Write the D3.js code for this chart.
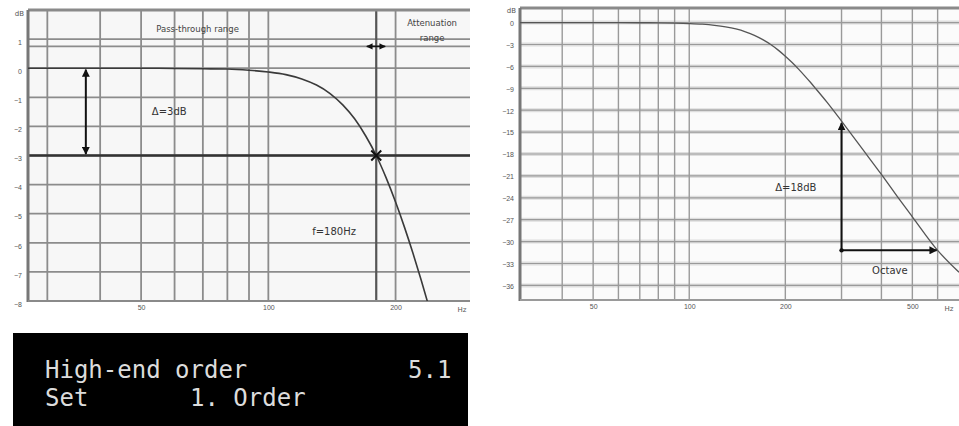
<!DOCTYPE html>
<html lang="en">
<head>
<meta charset="UTF-8">
<title>Low-pass filter order</title>
<script src="https://d3js.org/d3.v7.min.js"></script>
<style>
    body { margin: 0; background: #ffffff; }
    svg { display: block; font-family: "DejaVu Sans", sans-serif; }
    .tick-label { font-size: 7px; fill: #555; }
    .note { font-size: 10px; fill: #333; }
    .small-note { font-size: 8.5px; fill: #444; }
    .lcd { font-family: "DejaVu Sans Mono", monospace; font-size: 24px; fill: #dcdcdc; }
</style>
</head>
<body>
<svg id="chart" width="959" height="426"></svg>
<script>
    // response of the filter (Hz / dB)
    const freqs  = [27, 40, 50, 60, 70, 80, 90, 100, 110, 120, 130, 140, 150, 160, 170, 180,
                    190, 200, 210, 220, 230, 240, 250, 270, 300, 350, 400, 450, 500, 600, 700];
    const gainDb = [0, 0, 0, -0.01, -0.02, -0.03, -0.07, -0.13, -0.22, -0.37, -0.58, -0.87, -1.26, -1.74, -2.33, -3.0,
                    -3.77, -4.6, -5.47, -6.37, -7.29, -8.21, -9.13, -10.9, -13.5, -17.4, -20.8, -23.9, -26.6, -31.2, -34.2];

    const leftYTicks  = [1, 0, -1, -2, -3, -4, -5, -6, -7, -8];
    const leftXGrid   = [30, 40, 50, 60, 70, 80, 90, 100, 200];
    const leftXLabels = [50, 100, 200];
    const cutoffHz = 180;

    const rightYTicks  = [0, -3, -6, -9, -12, -15, -18, -21, -24, -27, -30, -33, -36];
    const rightXGrid   = [40, 50, 60, 70, 80, 90, 100, 200, 300, 400, 500, 600];
    const rightXLabels = [50, 100, 200, 500];
    const octave = [300, 600];

    const data = freqs.map((f, i) => ({f: f, db: gainDb[i]}));
    const svg = d3.select("#chart");

    // ---------- left panel: -3 dB point ----------
    const L = {x0: 28, x1: 470, y0: 10, y1: 301};
    const xL = d3.scaleLog().domain([27, 300]).range([L.x0, L.x1]);
    const yL = d3.scaleLinear().domain([2, -8]).range([L.y0, L.y1]);

    const left = svg.append("g");
    left.append("rect").attr("x", L.x0).attr("y", L.y0)
        .attr("width", L.x1 - L.x0).attr("height", L.y1 - L.y0).attr("fill", "#f7f7f7");

    left.selectAll(".hgrid").data(leftYTicks).enter().append("line")
        .attr("x1", L.x0).attr("x2", L.x1)
        .attr("y1", d => yL(d)).attr("y2", d => yL(d))
        .attr("stroke", "#8c8c8c").attr("stroke-width", 1.8);
    left.selectAll(".vgrid").data(leftXGrid).enter().append("line")
        .attr("x1", d => xL(d)).attr("x2", d => xL(d))
        .attr("y1", L.y0).attr("y2", L.y1)
        .attr("stroke", "#8c8c8c").attr("stroke-width", 1.8);

    // range separator line under the headings
    left.append("line").attr("x1", L.x0).attr("x2", L.x1)
        .attr("y1", yL(0.75)).attr("y2", yL(0.75))
        .attr("stroke", "#8c8c8c").attr("stroke-width", 1.8);

    // -3 dB line and cutoff line
    left.append("line").attr("x1", L.x0).attr("x2", L.x1)
        .attr("y1", yL(-3)).attr("y2", yL(-3))
        .attr("stroke", "#333").attr("stroke-width", 2.6);
    left.append("line").attr("x1", xL(cutoffHz)).attr("x2", xL(cutoffHz))
        .attr("y1", L.y0).attr("y2", L.y1)
        .attr("stroke", "#555").attr("stroke-width", 2.2);

    // frame
    left.append("line").attr("x1", L.x0).attr("x2", L.x1).attr("y1", L.y0).attr("y2", L.y0)
        .attr("stroke", "#8a8a8a").attr("stroke-width", 3);
    left.append("line").attr("x1", L.x0).attr("x2", L.x0).attr("y1", L.y0).attr("y2", L.y1 + 1)
        .attr("stroke", "#777").attr("stroke-width", 3);
    left.append("line").attr("x1", L.x0).attr("x2", L.x1).attr("y1", L.y1).attr("y2", L.y1)
        .attr("stroke", "#8a8a8a").attr("stroke-width", 2);

    svg.append("clipPath").attr("id", "clipL").append("rect")
        .attr("x", L.x0).attr("y", L.y0).attr("width", L.x1 - L.x0).attr("height", L.y1 - L.y0);
    left.append("path").datum(data)
        .attr("clip-path", "url(#clipL)")
        .attr("fill", "none").attr("stroke", "#3a3a3a").attr("stroke-width", 1.6)
        .attr("d", d3.line().x(d => xL(d.f)).y(d => yL(d.db)).curve(d3.curveMonotoneX));

    // axes labels
    left.append("g").attr("transform", `translate(${L.x0 - 4},0)`)
        .call(d3.axisLeft(yL).tickValues(leftYTicks).tickSize(0).tickPadding(2).tickFormat(d3.format("d")))
        .call(g => g.select(".domain").remove())
        .selectAll("text").attr("class", "tick-label").attr("dy", "0.75em");
    left.append("text").attr("class", "tick-label").attr("x", L.x0 - 4).attr("y", L.y0 + 6)
        .attr("text-anchor", "end").text("dB");
    left.append("g").attr("transform", `translate(0,${L.y1 + 2})`)
        .call(d3.axisBottom(xL).tickValues(leftXLabels).tickSize(0).tickPadding(2).tickFormat(d3.format("d")))
        .call(g => g.select(".domain").remove())
        .selectAll("text").attr("class", "tick-label");
    left.append("text").attr("class", "tick-label").attr("x", L.x1 - 8).attr("y", L.y1 + 11)
        .attr("text-anchor", "middle").text("Hz");

    // annotations
    left.append("text").attr("class", "small-note").attr("x", xL(68)).attr("y", yL(1.25))
        .attr("text-anchor", "middle").text("Pass-through range");
    left.append("text").attr("class", "small-note").attr("x", xL(244)).attr("y", yL(1.45))
        .attr("text-anchor", "middle").text("Attenuation");
    left.append("text").attr("class", "small-note").attr("x", xL(244)).attr("y", yL(0.95))
        .attr("text-anchor", "middle").text("range");

    const defs = svg.append("defs");
    defs.append("marker").attr("id", "head").attr("viewBox", "0 0 10 10")
        .attr("refX", 9).attr("refY", 5).attr("markerWidth", 4).attr("markerHeight", 4)
        .attr("orient", "auto-start-reverse")
        .append("path").attr("d", "M0,0L10,5L0,10z").attr("fill", "#111");

    left.append("line").attr("x1", xL(37)).attr("x2", xL(37))
        .attr("y1", yL(-0.05)).attr("y2", yL(-2.95))
        .attr("stroke", "#111").attr("stroke-width", 2)
        .attr("marker-start", "url(#head)").attr("marker-end", "url(#head)");
    left.append("line").attr("x1", xL(171)).attr("x2", xL(189))
        .attr("y1", yL(0.75)).attr("y2", yL(0.75))
        .attr("stroke", "#111").attr("stroke-width", 1.6)
        .attr("marker-start", "url(#head)").attr("marker-end", "url(#head)");

    left.append("text").attr("class", "note").attr("x", xL(53)).attr("y", yL(-1.62)).text("Δ=3dB");
    left.append("text").attr("class", "note").attr("x", xL(127)).attr("y", yL(-5.72)).text("f=180Hz");

    // cross at the cutoff point
    const cx = xL(cutoffHz), cy = yL(-3);
    left.append("path").attr("d", `M${cx - 5},${cy - 5}L${cx + 5},${cy + 5}M${cx - 5},${cy + 5}L${cx + 5},${cy - 5}`)
        .attr("stroke", "#111").attr("stroke-width", 2);

    // ---------- right panel: slope per octave ----------
    const R = {x0: 520, x1: 959, y0: 8, y1: 300};
    const xR = d3.scaleLog().domain([29.5, 700]).range([R.x0, R.x1]);
    const yR = d3.scaleLinear().domain([2, -38]).range([R.y0, R.y1]);

    const right = svg.append("g");
    right.append("rect").attr("x", R.x0).attr("y", R.y0)
        .attr("width", R.x1 - R.x0).attr("height", R.y1 - R.y0).attr("fill", "#fbfbfb");

    right.selectAll(".hband").data(rightYTicks).enter().append("line")
        .attr("x1", R.x0).attr("x2", R.x1)
        .attr("y1", d => yR(d)).attr("y2", d => yR(d))
        .attr("stroke", "#dedede").attr("stroke-width", 4);
    right.selectAll(".hgrid").data(rightYTicks).enter().append("line")
        .attr("x1", R.x0).attr("x2", R.x1)
        .attr("y1", d => yR(d)).attr("y2", d => yR(d))
        .attr("stroke", "#9a9a9a").attr("stroke-width", 1.2);
    right.selectAll(".vgrid").data(rightXGrid).enter().append("line")
        .attr("x1", d => xR(d)).attr("x2", d => xR(d))
        .attr("y1", R.y0).attr("y2", R.y1)
        .attr("stroke", "#9a9a9a").attr("stroke-width", 1.4);

    right.append("line").attr("x1", R.x0).attr("x2", R.x1).attr("y1", R.y0).attr("y2", R.y0)
        .attr("stroke", "#8a8a8a").attr("stroke-width", 3);
    right.append("line").attr("x1", R.x0).attr("x2", R.x0).attr("y1", R.y0).attr("y2", R.y1 + 1)
        .attr("stroke", "#777").attr("stroke-width", 3);
    right.append("line").attr("x1", R.x0).attr("x2", R.x1).attr("y1", R.y1).attr("y2", R.y1)
        .attr("stroke", "#9a9a9a").attr("stroke-width", 2);

    svg.append("clipPath").attr("id", "clipR").append("rect")
        .attr("x", R.x0).attr("y", R.y0).attr("width", R.x1 - R.x0).attr("height", R.y1 - R.y0);
    right.append("path").datum(data)
        .attr("clip-path", "url(#clipR)")
        .attr("fill", "none").attr("stroke", "#555").attr("stroke-width", 1.3)
        .attr("d", d3.line().x(d => xR(d.f)).y(d => yR(d.db)).curve(d3.curveMonotoneX));

    right.append("g").attr("transform", `translate(${R.x0 - 4},0)`)
        .call(d3.axisLeft(yR).tickValues(rightYTicks).tickSize(0).tickPadding(2).tickFormat(d3.format("d")))
        .call(g => g.select(".domain").remove())
        .selectAll("text").attr("class", "tick-label").attr("dy", "0.4em");
    right.append("text").attr("class", "tick-label").attr("x", R.x0 - 4).attr("y", R.y0 + 5)
        .attr("text-anchor", "end").text("dB");
    right.append("g").attr("transform", `translate(0,${R.y1 + 2})`)
        .call(d3.axisBottom(xR).tickValues(rightXLabels).tickSize(0).tickPadding(2).tickFormat(d3.format("d")))
        .call(g => g.select(".domain").remove())
        .selectAll("text").attr("class", "tick-label");
    right.append("text").attr("class", "tick-label").attr("x", R.x1 - 10).attr("y", R.y1 + 11)
        .attr("text-anchor", "middle").text("Hz");

    // octave step: -18 dB
    const dbAt = f => gainDb[freqs.indexOf(f)];
    const oTop = dbAt(octave[0]), oBot = dbAt(octave[1]);
    right.append("line").attr("x1", xR(octave[0])).attr("x2", xR(octave[0]))
        .attr("y1", yR(oBot)).attr("y2", yR(oTop) + 2)
        .attr("stroke", "#111").attr("stroke-width", 2)
        .attr("marker-end", "url(#head)");
    right.append("line").attr("x1", xR(octave[0])).attr("x2", xR(octave[1]) - 1)
        .attr("y1", yR(oBot)).attr("y2", yR(oBot))
        .attr("stroke", "#111").attr("stroke-width", 2)
        .attr("marker-end", "url(#head)");
    right.append("circle").attr("cx", xR(octave[0])).attr("cy", yR(oBot)).attr("r", 2.2).attr("fill", "#111");

    right.append("text").attr("class", "note").attr("font-size", "9px")
        .attr("x", xR(186)).attr("y", yR(-23.1)).text("Δ=18dB");
    right.append("text").attr("class", "note")
        .attr("x", xR(374)).attr("y", yR(-34.4)).text("Octave");

    // ---------- display panel ----------
    const lcd = svg.append("g");
    lcd.append("rect").attr("x", 13).attr("y", 333).attr("width", 455).attr("height", 93).attr("fill", "#000");
    lcd.append("text").attr("class", "lcd").attr("x", 45).attr("y", 378).text("High-end order");
    lcd.append("text").attr("class", "lcd").attr("x", 408).attr("y", 378).text("5.1");
    lcd.append("text").attr("class", "lcd").attr("x", 45).attr("y", 406).text("Set");
    lcd.append("text").attr("class", "lcd").attr("x", 190).attr("y", 406).text("1. Order");
</script>
</body>
</html>
